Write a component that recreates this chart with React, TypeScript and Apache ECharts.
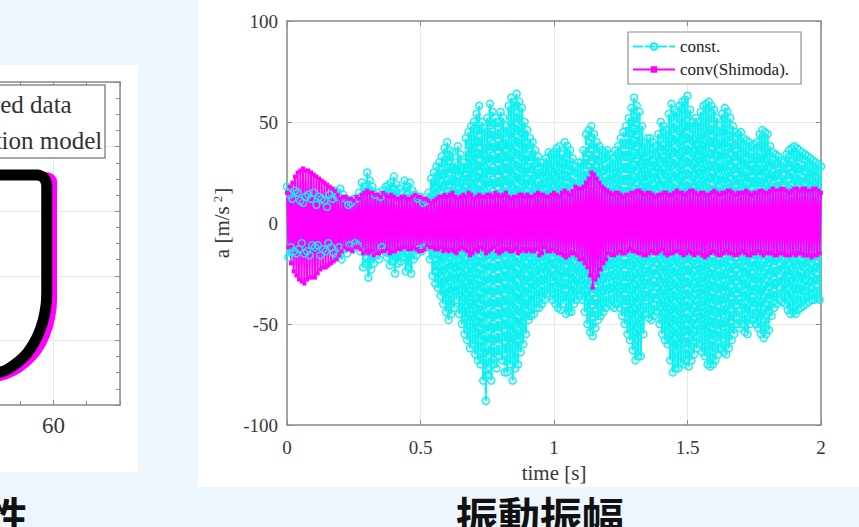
import React, { useEffect, useRef } from 'react';
import * as echarts from 'echarts';

// sampling step of the acceleration records [s]
const TIME_STEP = 0.005;

// "const." acceleration record [m/s^2], one value per TIME_STEP from 0 to 2 s (rows of 0.1 s)
const CONST_A = [
  18, -17, 14, -12, 12, -14, 16, -15, 15, -13, 11, -10, 10, -15, 13, -14, 14, -16, 12, -11,
  15, -12, 9, -11, 13, -16, 12, -13, 11, -14, 8, -10, 14, -12, 12, -15, 16, -17, 13, -12,
  17, -18, 14, -13, 12, -15, 9, -11, 10, -13, 12, -10, 12, -11, 15, -14, 20, -22, 18, -20,
  25, -27, 21, -23, 18, -20, 14, -16, 15, -18, 13, -12, 16, -14, 18, -17, 19, -21, 20, -19,
  23, -25, 19, -20, 17, -19, 15, -17, 21, -24, 18, -22, 20, -25, 16, -18, 14, -16, 12, -13,
  13, -14, 10, -12, 11, -12, 15, -18, 22, -26, 25, -30, 28, -32, 30, -36, 33, -40, 37, -44,
  40, -48, 36, -45, 35, -42, 30, -38, 38, -45, 34, -50, 30, -55, 42, -58, 45, -62, 48, -60,
  50, -65, 54, -68, 58, -70, 50, -78, 47, -88, 52, -75, 59, -78, 55, -70, 52, -72, 50, -66,
  55, -68, 52, -74, 48, -74, 58, -70, 62, -78, 60, -72, 64, -70, 60, -64, 57, -60, 50, -55,
  46, -48, 42, -46, 40, -45, 36, -42, 33, -42, 30, -40, 30, -38, 32, -35, 35, -36, 34, -38,
  35, -40, 37, -42, 38, -43, 34, -40, 40, -45, 38, -44, 36, -44, 32, -40, 28, -38, 30, -36,
  30, -38, 36, -44, 44, -50, 46, -54, 48, -56, 44, -52, 40, -48, 38, -46, 36, -44, 35, -42,
  36, -40, 34, -41, 32, -42, 36, -40, 38, -42, 42, -46, 45, -50, 48, -55, 52, -58, 57, -63,
  62, -68, 58, -66, 55, -66, 48, -55, 40, -45, 42, -47, 42, -48, 40, -46, 38, -44, 44, -50,
  50, -55, 48, -58, 46, -60, 54, -68, 59, -74, 56, -72, 55, -72, 58, -69, 60, -70, 61, -68,
  63, -71, 56, -68, 50, -65, 52, -62, 50, -60, 55, -64, 58, -66, 59, -70, 60, -71, 58, -70,
  56, -68, 52, -65, 48, -62, 54, -64, 57, -65, 55, -62, 52, -58, 48, -55, 45, -50, 44, -52,
  45, -50, 42, -54, 41, -55, 40, -50, 38, -48, 39, -50, 40, -52, 44, -55, 46, -57, 45, -55,
  44, -53, 38, -46, 35, -42, 34, -40, 33, -38, 31, -39, 30, -40, 34, -43, 36, -45, 37, -44,
  38, -45, 37, -43, 36, -42, 35, -41, 34, -40, 33, -39, 32, -38, 31, -38, 30, -37, 29, -38,
  28,
];

// "conv(Shimoda)." acceleration record [m/s^2]
const CONV_A = [
  15, -12, 18, -20, 20, -24, 23, -26, 25, -28, 26, -29, 27, -30, 26, -28, 26, -27, 25, -27,
  24, -27, 23, -25, 22, -23, 21, -22, 20, -22, 19, -21, 18, -20, 17, -19, 16, -18, 14, -16,
  12, -14, 13, -12, 13, -13, 12, -13, 12, -14, 11, -12, 13, -12, 12, -13, 14, -15, 15, -14,
  16, -15, 15, -14, 15, -16, 14, -15, 14, -15, 13, -14, 15, -14, 14, -13, 13, -15, 14, -14,
  13, -14, 12, -13, 12, -13, 13, -12, 13, -12, 12, -13, 12, -13, 13, -12, 14, -13, 13, -14,
  13, -14, 12, -13, 12, -11, 11, -12, 10, -12, 11, -13, 12, -13, 13, -12, 13, -14, 14, -13,
  13, -14, 14, -13, 15, -14, 13, -15, 12, -13, 13, -12, 14, -13, 13, -14, 15, -16, 14, -15,
  12, -13, 13, -14, 14, -12, 13, -13, 13, -15, 14, -14, 14, -13, 13, -12, 15, -14, 14, -15,
  13, -14, 14, -13, 15, -13, 13, -14, 12, -14, 13, -13, 13, -15, 14, -14, 14, -13, 13, -14,
  14, -13, 13, -14, 13, -14, 14, -13, 15, -16, 14, -15, 14, -12, 13, -14, 13, -14, 14, -13,
  15, -14, 14, -15, 13, -15, 15, -16, 16, -17, 15, -16, 14, -15, 16, -15, 18, -16, 17, -18,
  17, -18, 18, -20, 20, -22, 22, -26, 25, -32, 24, -28, 22, -26, 20, -23, 18, -20, 17, -18,
  16, -15, 15, -16, 14, -16, 15, -15, 15, -14, 14, -15, 13, -15, 14, -14, 14, -13, 15, -14,
  15, -14, 16, -15, 16, -15, 15, -16, 14, -16, 15, -15, 15, -14, 14, -15, 13, -15, 14, -14,
  14, -13, 15, -15, 15, -16, 14, -15, 14, -15, 15, -14, 16, -14, 15, -15, 15, -16, 14, -15,
  15, -14, 16, -15, 16, -16, 15, -15, 14, -15, 15, -16, 15, -17, 14, -16, 14, -15, 15, -14,
  16, -15, 15, -16, 14, -16, 15, -15, 15, -14, 16, -15, 16, -15, 15, -16, 14, -16, 15, -15,
  15, -14, 15, -15, 16, -16, 15, -16, 14, -15, 15, -15, 15, -14, 16, -15, 16, -16, 15, -15,
  15, -15, 16, -15, 17, -16, 16, -16, 16, -15, 17, -15, 17, -16, 16, -16, 15, -16, 16, -15,
  17, -16, 17, -15, 16, -15, 17, -16, 17, -16, 16, -16, 16, -17, 17, -16, 17, -16, 16, -15,
  15,
];

const SERIES_NAMES = ['const.', 'conv(Shimoda).'];

// left (partially visible) hysteresis chart
const MEASURED = [
  [44.5, 78.0], [52.0, 78.0], [57.7, 78.0], [58.6, 75.7], [59.0, 70.3],
  [59.0, -11.0], [58.9, -22.6], [58.4, -35.8], [57.5, -48.1], [56.2, -59.0],
  [54.7, -66.7], [53.2, -72.1], [52.0, -74.5], [44.5, -80.6],
];
const SIMULATED = [
  [44.5, 78.0], [58.7, 78.0], [59.6, 77.0], [60.1, 73.5], [60.1, -18.7],
  [59.8, -32.7], [59.0, -46.6], [57.7, -59.0], [56.0, -68.3], [54.1, -75.2],
  [52.0, -79.1], [44.5, -83.7],
];
const LEFT_LEGEND = ['measured data', 'simulation model'];

const SERIF = '"Liberation Serif", "Times New Roman", serif';
const CJK = '"Noto Sans CJK JP", "Noto Sans CJK SC", sans-serif';
const AXIS_GRAY = '#8a8a8a';
const GRID_GRAY = '#e8e8e8';
const CYAN = '#10f0f0';
const MAGENTA = '#ff00ff';

function buildOption(): any {
  const constData = CONST_A.map((v, i) => [i * TIME_STEP, v]);
  const convData = CONV_A.map((v, i) => [i * TIME_STEP, v]);

  const axisLine = { show: true, onZero: false, lineStyle: { color: AXIS_GRAY, width: 1.5 } };
  const tick = { show: true, inside: true, length: 5, lineStyle: { color: AXIS_GRAY, width: 1 } };
  const label = { fontFamily: SERIF, fontSize: 19, color: '#383838' };
  const minor = { show: true, splitNumber: 4, length: 4, lineStyle: { color: AXIS_GRAY } };

  return {
    animation: false,
    backgroundColor: '#eef6fd',
    grid: [
      { left: 287, top: 21, width: 534, height: 404, outerBoundsMode: 'none', containLabel: false },
      { left: -213, top: 82, width: 333, height: 323, outerBoundsMode: 'none', containLabel: false },
    ],
    legend: {
      data: SERIES_NAMES,
      orient: 'vertical',
      left: 628,
      top: 32,
      padding: [6, 12, 6, 4],
      itemGap: 6,
      itemWidth: 42,
      itemHeight: 8,
      backgroundColor: '#ffffff',
      borderColor: '#8f8f8f',
      borderWidth: 1.2,
      textStyle: { fontFamily: SERIF, fontSize: 17, color: '#222' },
    },
    xAxis: [
      {
        gridIndex: 0, type: 'value', position: 'bottom', min: 0, max: 2, interval: 0.5,
        axisLine, axisTick: tick,
        axisLabel: { ...label, margin: 13 },
        splitLine: { show: true, lineStyle: { color: GRID_GRAY, width: 1 } },
        name: 'time [s]', nameLocation: 'middle', nameGap: 37,
        nameTextStyle: { fontFamily: SERIF, fontSize: 21, color: '#383838' },
      },
      {
        gridIndex: 0, type: 'value', position: 'top', min: 0, max: 2, interval: 0.5,
        axisLine, axisTick: tick, axisLabel: { show: false }, splitLine: { show: false },
      },
      {
        gridIndex: 1, type: 'value', position: 'bottom', min: 20, max: 70, interval: 20,
        axisLine, axisTick: tick, minorTick: minor,
        axisLabel: {
          fontFamily: SERIF, fontSize: 23, color: '#383838', margin: 9,
          showMaxLabel: false,
          formatter: (v: number) => (v === 60 ? String(v) : ''),
        },
        splitLine: { show: true, lineStyle: { color: GRID_GRAY, width: 1 } },
      },
      {
        gridIndex: 1, type: 'value', position: 'top', min: 20, max: 70, interval: 20,
        axisLine, axisTick: tick, minorTick: minor,
        axisLabel: { show: false }, splitLine: { show: false },
      },
    ],
    yAxis: [
      {
        gridIndex: 0, type: 'value', position: 'left', min: -100, max: 100, interval: 50,
        axisLine, axisTick: tick,
        axisLabel: { ...label, margin: 9 },
        splitLine: { show: true, lineStyle: { color: GRID_GRAY, width: 1 } },
        name: 'a [m/s{sup|2}]', nameLocation: 'middle', nameRotate: 90, nameGap: 47,
        nameTextStyle: {
          fontFamily: SERIF, fontSize: 21, color: '#383838',
          rich: { sup: { fontFamily: SERIF, fontSize: 13, color: '#383838', verticalAlign: 'top', padding: [0, 1, 0, 4] } },
        },
      },
      {
        gridIndex: 0, type: 'value', position: 'right', min: -100, max: 100, interval: 50,
        axisLine, axisTick: tick, axisLabel: { show: false }, splitLine: { show: false },
      },
      {
        gridIndex: 1, type: 'value', position: 'left', min: -100, max: 150, interval: 50,
        axisLine, axisTick: tick, axisLabel: { show: false },
        splitLine: { show: true, lineStyle: { color: GRID_GRAY, width: 1 } },
      },
      {
        gridIndex: 1, type: 'value', position: 'right', min: -100, max: 150, interval: 50,
        axisLine, axisTick: tick, minorTick: minor,
        axisLabel: { show: false }, splitLine: { show: false },
      },
    ],
    series: [
      {
        name: SERIES_NAMES[0], type: 'line', xAxisIndex: 0, yAxisIndex: 0,
        data: constData,
        symbol: 'circle', symbolSize: 7, showSymbol: true,
        itemStyle: { color: 'rgba(0,255,255,0)', borderColor: CYAN, borderWidth: 1.4 },
        lineStyle: { color: CYAN, width: 2.4, type: [10, 2] },
        emphasis: { disabled: true },
      },
      {
        name: SERIES_NAMES[1], type: 'line', xAxisIndex: 0, yAxisIndex: 0,
        data: convData,
        symbol: 'rect', symbolSize: 4, showSymbol: true,
        itemStyle: { color: MAGENTA },
        lineStyle: { color: MAGENTA, width: 2 },
        emphasis: { disabled: true },
      },
      {
        name: LEFT_LEGEND[1], type: 'line', xAxisIndex: 2, yAxisIndex: 2,
        data: SIMULATED, symbol: 'none',
        lineStyle: { color: MAGENTA, width: 6 },
        smooth: 0.2,
      },
      {
        name: LEFT_LEGEND[0], type: 'line', xAxisIndex: 2, yAxisIndex: 2,
        data: MEASURED, symbol: 'none',
        lineStyle: { color: '#000000', width: 11 },
        smooth: 0.2,
      },
    ],
    graphic: [
      { type: 'rect', z: -100, shape: { x: 0, y: 65, width: 138, height: 407 }, style: { fill: '#ffffff' } },
      { type: 'rect', z: -100, shape: { x: 198, y: 0, width: 661, height: 487 }, style: { fill: '#ffffff' } },
      {
        type: 'rect', z: 50, shape: { x: -200, y: 85, width: 305, height: 73 },
        style: { fill: '#ffffff', stroke: '#8a8a8a', lineWidth: 1.5 },
      },
      {
        type: 'text', z: 51, x: -72, y: 104,
        style: { text: LEFT_LEGEND[0], font: `25px ${SERIF}`, fill: '#333', textAlign: 'left', textVerticalAlign: 'middle', align: 'left', verticalAlign: 'middle' },
      },
      {
        type: 'text', z: 51, x: -72, y: 140,
        style: { text: LEFT_LEGEND[1], font: `25px ${SERIF}`, fill: '#333', textAlign: 'left', textVerticalAlign: 'middle', align: 'left', verticalAlign: 'middle' },
      },
      {
        type: 'text', z: 60, x: 540, y: 493,
        style: { text: '振動振幅', font: `bold 42px ${CJK}`, fill: '#111', textAlign: 'center', textVerticalAlign: 'top', align: 'center', verticalAlign: 'top' },
      },
      {
        type: 'text', z: 60, x: 28, y: 493,
        style: { text: '性', font: `bold 42px ${CJK}`, fill: '#111', textAlign: 'right', textVerticalAlign: 'top', align: 'right', verticalAlign: 'top' },
      },
    ],
  };
}

export default function App() {
  const ref = useRef<HTMLDivElement>(null);
  useEffect(() => {
    document.body.style.margin = '0';
    const chart = echarts.init(ref.current!, null, { renderer: 'svg' });
    chart.setOption(buildOption());
    return () => chart.dispose();
  }, []);
  return <div ref={ref} style={{ position: 'fixed', left: 0, top: 0, width: 859, height: 527 }} />;
}
